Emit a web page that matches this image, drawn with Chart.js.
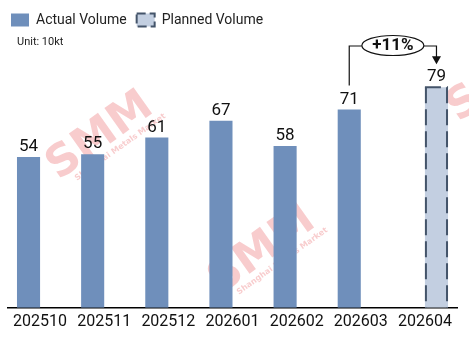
<!DOCTYPE html>
<html>
<head>
<meta charset="utf-8">
<script src="https://cdn.jsdelivr.net/npm/chart.js@4"></script>
<style>
  html, body { margin: 0; padding: 0; background: #fff; }
  #wrap { width: 469px; height: 340px; position: relative; }
</style>
</head>
<body>
<div id="wrap"><canvas id="volume-chart"></canvas></div>
<script>
(() => {
    const months = ["202510", "202511", "202512", "202601", "202602", "202603", "202604"];
    const actualVolume = [54, 55, 61, 67, 58, 71, null];
    const plannedVolume = [null, null, null, null, null, null, 79];
    const seriesNames = ["Actual Volume", "Planned Volume"];
    const unitText = "Unit: 10kt";

    const actualColor = "rgb(111, 143, 187)";
    const plannedColor = "rgb(195, 207, 225)";
    const dashColor = "#44546a";
    const fontFamily = "Roboto, 'Noto Sans', sans-serif";

    // faint SMM marks behind the bars
    const watermark = {
        id: "watermark",
        beforeDatasetsDraw(chart) {
            const ctx = chart.ctx;
            const spots = [[100, 136], [262, 250], [500, 78]];
            ctx.save();
            spots.forEach(([x, y]) => {
                ctx.save();
                ctx.translate(x, y);
                ctx.rotate(-0.62);
                ctx.fillStyle = "rgba(232, 85, 90, 0.3)";
                ctx.textAlign = "center";
                ctx.textBaseline = "alphabetic";
                ctx.font = "bold 44px 'DejaVu Sans'";
                ctx.fillText("SMM", 0, 12);
                ctx.font = "bold 8px 'DejaVu Sans'";
                ctx.fillText("Shanghai Metals Market", 10, 23);
                ctx.restore();
            });
            ctx.restore();
        },
    };

    // value labels, dashed outline of the planned bar, growth callout
    const decorations = {
        id: "decorations",
        afterDatasetsDraw(chart) {
            const ctx = chart.ctx;
            ctx.save();

            ctx.fillStyle = "#222";
            ctx.font = "11px " + fontFamily;
            ctx.textAlign = "left";
            ctx.textBaseline = "middle";
            ctx.fillText(unitText, 17, 42);

            ctx.fillStyle = "#111";
            ctx.font = "17px " + fontFamily;
            ctx.textAlign = "center";
            ctx.textBaseline = "alphabetic";
            chart.data.datasets.forEach((ds, di) => {
                chart.getDatasetMeta(di).data.forEach((bar, i) => {
                    if (ds.data[i] == null) return;
                    ctx.fillText(String(ds.data[i]), bar.x, bar.y - 6);
                });
            });

            const plannedIndex = plannedVolume.findIndex((v) => v != null);
            const pBar = chart.getDatasetMeta(1).data[plannedIndex];
            const half = pBar.width / 2;
            const left = pBar.x - half + 1;
            const right = pBar.x + half - 1;
            const top = pBar.y;
            const bottom = pBar.base;
            ctx.strokeStyle = dashColor;
            ctx.lineWidth = 2;
            ctx.setLineDash([16, 6]);
            [[left - 1, top, right + 1, top], [left, top, left, bottom], [right, top, right, bottom]].forEach(([x1, y1, x2, y2]) => {
                ctx.beginPath();
                ctx.moveTo(x1, y1);
                ctx.lineTo(x2, y2);
                ctx.stroke();
            });
            ctx.setLineDash([]);

            const prevIndex = plannedIndex - 1;
            const aBar = chart.getDatasetMeta(0).data[prevIndex];
            const growth = Math.round((plannedVolume[plannedIndex] / actualVolume[prevIndex] - 1) * 100);
            const cy = 46;
            const cx = (aBar.x + pBar.x) / 2;
            const rx = 31;
            const ry = 10;
            const tipY = pBar.y - 23;

            ctx.strokeStyle = "#111";
            ctx.lineWidth = 1.2;
            ctx.beginPath();
            ctx.moveTo(aBar.x, aBar.y - 24);
            ctx.lineTo(aBar.x, cy);
            ctx.lineTo(cx - rx, cy);
            ctx.moveTo(cx + rx, cy);
            ctx.lineTo(pBar.x, cy);
            ctx.lineTo(pBar.x, tipY - 7);
            ctx.stroke();

            ctx.fillStyle = "#111";
            ctx.beginPath();
            ctx.moveTo(pBar.x - 4.5, tipY - 8);
            ctx.lineTo(pBar.x + 4.5, tipY - 8);
            ctx.lineTo(pBar.x, tipY);
            ctx.closePath();
            ctx.fill();

            ctx.fillStyle = "#fff";
            ctx.beginPath();
            ctx.ellipse(cx, cy - 0.5, rx, ry, 0, 0, Math.PI * 2);
            ctx.fill();
            ctx.stroke();

            ctx.fillStyle = "#111";
            ctx.font = "bold 17px " + fontFamily;
            ctx.textBaseline = "middle";
            ctx.fillText("+" + growth + "%", cx, cy);

            ctx.restore();
        },
    };

    new Chart(document.getElementById("volume-chart"), {
        type: "bar",
        data: {
            labels: months,
            datasets: [
                {
                    label: seriesNames[0],
                    data: actualVolume,
                    backgroundColor: actualColor,
                    borderWidth: 0,
                },
                {
                    label: seriesNames[1],
                    data: plannedVolume,
                    backgroundColor: plannedColor,
                    borderWidth: 0,
                },
            ],
        },
        options: {
            responsive: true,
            maintainAspectRatio: false,
            animation: false,
            categoryPercentage: 0.72,
            barPercentage: 1,
            layout: {
                padding: { top: 3, right: 12, bottom: 3, left: 1 },
            },
            scales: {
                x: {
                    grid: { display: false, drawTicks: false },
                    border: { display: true, color: "#000", width: 1.5 },
                    ticks: {
                        color: "#111",
                        padding: 5,
                        font: { family: fontFamily, size: 16 },
                        maxRotation: 0,
                        autoSkip: false,
                    },
                },
                y: {
                    min: 0,
                    max: 97,
                    grid: { display: false, drawTicks: false },
                    border: { display: false },
                    ticks: { display: false },
                    afterFit: (scale) => {
                        scale.width = 7;
                    },
                },
            },
            plugins: {
                tooltip: { enabled: false },
                legend: {
                    position: "top",
                    align: "start",
                    labels: {
                        boxWidth: 18,
                        boxHeight: 13,
                        padding: 10,
                        color: "#222",
                        font: { family: fontFamily, size: 14 },
                        generateLabels: (chart) => chart.data.datasets.map((ds, i) => ({
                            text: ds.label,
                            fillStyle: ds.backgroundColor,
                            strokeStyle: i ? dashColor : ds.backgroundColor,
                            lineWidth: i ? 2 : 0,
                            lineDash: i ? [9, 4] : [],
                            datasetIndex: i,
                            hidden: false,
                            fontColor: "#222",
                        })),
                    },
                },
            },
        },
        plugins: [watermark, decorations],
    });
})();
</script>
</body>
</html>
